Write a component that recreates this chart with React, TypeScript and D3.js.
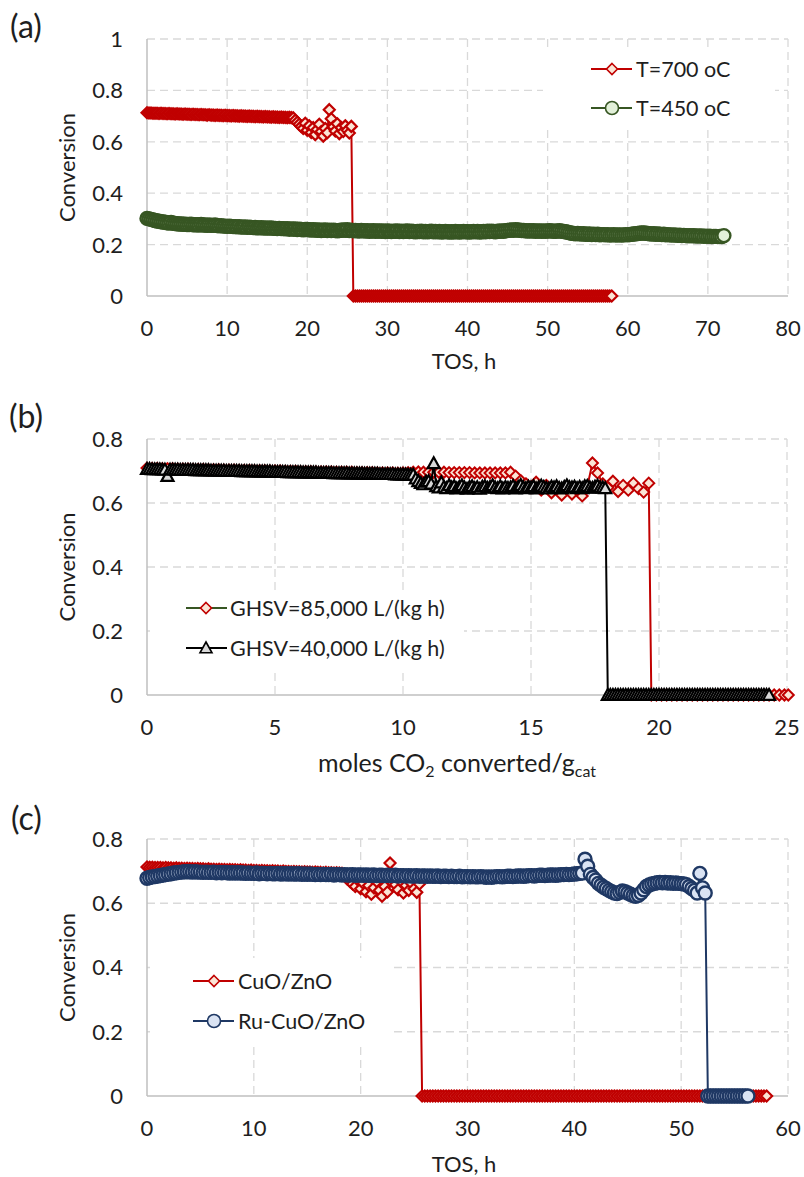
import React from 'react';
import * as d3 from 'd3';

// ---------- DATA ----------
// time-on-stream sampling grid (h), shared by panels (a) and (c)
const tosGrid = [
  0,0.25,0.5,0.75,1,1.25,1.5,1.75,2,2.25,2.5,2.75,3,3.25,3.5,3.75,
  4,4.25,4.5,4.75,5,5.25,5.5,5.75,6,6.25,6.5,6.75,7,7.25,7.5,7.75,
  8,8.25,8.5,8.75,9,9.25,9.5,9.75,10,10.25,10.5,10.75,11,11.25,11.5,11.75,
  12,12.25,12.5,12.75,13,13.25,13.5,13.75,14,14.25,14.5,14.75,15,15.25,15.5,15.75,
  16,16.25,16.5,16.75,17,17.25,17.5,17.75,18,18.25,18.5,18.75,19,19.25,19.5,19.75,
  20,20.25,20.5,20.75,21,21.25,21.5,21.75,22,22.25,22.5,22.75,23,23.25,23.5,23.75,
  24,24.25,24.5,24.75,25,25.25,25.5,25.75,26,26.25,26.5,26.75,27,27.25,27.5,27.75,
  28,28.25,28.5,28.75,29,29.25,29.5,29.75,30,30.25,30.5,30.75,31,31.25,31.5,31.75,
  32,32.25,32.5,32.75,33,33.25,33.5,33.75,34,34.25,34.5,34.75,35,35.25,35.5,35.75,
  36,36.25,36.5,36.75,37,37.25,37.5,37.75,38,38.25,38.5,38.75,39,39.25,39.5,39.75,
  40,40.25,40.5,40.75,41,41.25,41.5,41.75,42,42.25,42.5,42.75,43,43.25,43.5,43.75,
  44,44.25,44.5,44.75,45,45.25,45.5,45.75,46,46.25,46.5,46.75,47,47.25,47.5,47.75,
  48,48.25,48.5,48.75,49,49.25,49.5,49.75,50,50.25,50.5,50.75,51,51.25,51.5,51.75,
  52,52.25,52.5,52.75,53,53.25,53.5,53.75,54,54.25,54.5,54.75,55,55.25,55.5,55.75,
  56,56.25,56.5,56.75,57,57.25,57.5,57.75,58,58.25,58.5,58.75,59,59.25,59.5,59.75,
  60,60.25,60.5,60.75,61,61.25,61.5,61.75,62,62.25,62.5,62.75,63,63.25,63.5,63.75,
  64,64.25,64.5,64.75,65,65.25,65.5,65.75,66,66.25,66.5,66.75,67,67.25,67.5,67.75,
  68,68.25,68.5,68.75,69,69.25,69.5,69.75,70,70.25,70.5,70.75,71,71.25,71.5,71.75,
  72,
];

// conversion x1000, CuO/ZnO at 700 oC (panel a red, panel c red)
const conv700 = [
  713,712,712,711, 711,711,710,711, 710,710,709,710, 709,709,708,709,
  708,708,707,708, 707,707,706,707, 706,706,705,706, 705,705,704,705,
  704,704,703,704, 703,703,702,703, 702,702,701,702, 701,701,700,701,
  700,700,699,700, 699,699,698,699, 698,698,697,698, 697,697,696,697,
  696,696,695,696, 695,695,694,695,
  694,
  693,684,676,668, 660,652,672,645, 662,636,655,628, 648,668,640,622,
  652,635,725,690, 658,642,670,632, 655,640,662,645, 634,660,
  0,0,0,0,0,0,0,0,0,0, 0,0,0,0,0,0,0,0,0,0, 0,0,0,0,0,0,0,0,0,0,
  0,0,0,0,0,0,0,0,0,0, 0,0,0,0,0,0,0,0,0,0, 0,0,0,0,0,0,0,0,0,0,
  0,0,0,0,0,0,0,0,0,0, 0,0,0,0,0,0,0,0,0,0, 0,0,0,0,0,0,0,0,0,0,
  0,0,0,0,0,0,0,0,0,0, 0,0,0,0,0,0,0,0,0,0, 0,0,0,0,0,0,0,0,0,0,
  0,0,0,0,0,0,0,0,0,0,
];

// conversion x1000, T = 450 oC (panel a green)
const conv450 = [
  302,300,298,296, 294,292,291,289, 288,287,285,284, 286,283,282,281,
  280,280,279,279, 278,278,279,277, 277,277,276,278, 276,276,275,276,
  275,275,276,274, 273,274,272,272, 271,272,271,270, 270,269,270,268,
  268,269,267,268, 267,266,267,265, 265,266,264,265, 264,264,265,263,
  263,262,263,262, 262,261,262,260, 261,260,261,259, 260,259,258,259,
  259,258,257,258, 257,256,257,255, 256,257,255,256, 255,256,255,254,
  255,256,257,256, 258,255,256,254, 255,254,253,255, 254,253,254,252,
  253,254,252,253, 253,252,253,251, 253,252,251,252, 252,253,251,252,
  251,252,253,251, 252,251,250,251, 251,252,250,251, 250,251,252,250,
  251,250,251,249, 250,251,250,249, 250,249,251,250, 249,250,251,250,
  250,249,250,251, 250,251,249,250, 251,250,252,251, 252,251,250,252,
  252,253,252,254, 255,256,257,256, 258,257,256,255, 255,254,253,254,
  253,254,252,253, 253,252,253,252, 253,254,253,252, 252,253,254,252,
  251,250,248,246, 244,243,242,243, 242,241,242,240, 240,241,239,240,
  239,240,238,239, 239,238,239,237, 238,239,237,238, 238,237,238,239,
  238,239,240,241, 242,243,244,245, 245,244,243,242, 241,242,240,241,
  240,239,240,238, 239,238,237,238, 237,236,237,235, 236,235,234,235,
  234,235,233,234, 233,234,232,233, 232,233,231,232, 232,231,232,231,
  235,
];

// conversion x1000, Ru-CuO/ZnO (panel c blue)
const convRu = [
  678,680,682,683, 685,686,688,689, 691,692,694,695, 696,697,698,698,
  698,697,698,697, 697,696,697,696, 696,697,695,696, 695,696,695,694,
  695,694,695,694, 694,693,694,693, 693,694,692,693, 693,692,693,692,
  692,693,691,692, 692,691,692,691, 691,692,690,691, 690,691,690,689,
  690,689,690,689, 689,690,688,689, 689,688,689,688, 688,689,687,688,
  688,687,688,687, 687,688,686,687, 687,686,687,686, 686,687,685,686,
  686,685,686,685, 685,686,684,685, 685,684,685,684, 684,685,683,684,
  684,683,684,683, 683,684,682,683, 683,682,683,682, 682,683,682,681,
  682,681,682,683, 683,682,683,684, 684,683,684,685, 685,684,685,686,
  686,685,686,687, 687,686,687,688, 688,687,688,689, 689,690,689,690,
  691,692,693,694, 737,715,690,680, 672,662,656,650, 645,640,636,632,
  630,634,638,636, 632,628,624,622, 625,632,642,652, 657,660,662,664,
  665,664,665,663, 664,662,663,662, 661,660,658,652, 646,640,632,693,
  648,632,
  0,0,0,0, 0,0,0,0, 0,0,0,0, 0,0,0,0,
];

// panel (b): moles CO2 converted per g cat — GHSV = 85,000 sampling
const molesGrid85k = [
  0,0.2,0.4,0.6,0.8,1,1.2,1.4,1.6,1.8,
  2,2.2,2.4,2.6,2.8,3,3.2,3.4,3.6,3.8,
  4,4.2,4.4,4.6,4.8,5,5.2,5.4,5.6,5.8,
  6,6.2,6.4,6.6,6.8,7,7.2,7.4,7.6,7.8,
  8,8.2,8.4,8.6,8.8,9,9.2,9.4,9.6,9.8,
  10,10.2,10.4,10.6,10.8,11,11.2,11.4,11.6,11.8,
  12,12.2,12.4,12.6,12.8,13,13.2,13.4,13.6,13.8,
  14,14.2,14.4,14.6,14.8,15,15.2,15.4,15.6,15.8,
  16,16.2,16.4,16.6,16.8,17,17.2,17.4,17.6,17.8,
  18,18.2,18.4,18.6,18.8,19,19.2,19.4,19.6,
];
// GHSV = 85,000 (x1000)
const conv85k = [
  709,708,708,707,707,707,706,706,706,705,
  705,705,704,704,704,703,703,703,702,702,
  702,701,701,701,700,700,700,699,699,699,
  698,698,698,697,697,697,697,696,696,696,
  696,695,695,695,695,694,694,694,694,693,
  694,695,696,697,696,696,696,696,696,695,
  695,695,695,695,694,694,694,694,694,694,
  694,696,684,670,660,648,665,640,655,632,
  650,625,645,628,640,622,652,725,694,660,
  648,668,636,655,640,662,645,634,662,
];
const zeroMoles85k = [
  19.7,19.9,20.1,20.3,20.5,20.7,20.9,21.1,21.3,21.5,21.7,21.9,22.1,22.3,
  22.5,22.7,22.9,23.1,23.3,23.5,23.7,23.9,24.1,24.3,24.5,24.7,24.9,25.05,
];
// GHSV = 40,000 sampling
const molesGrid40k = [
  0,0.1,0.2,0.3,0.4,0.5,0.6,0.7,0.8,0.9,
  1,1.1,1.2,1.3,1.4,1.5,1.6,1.7,1.8,1.9,
  2,2.1,2.2,2.3,2.4,2.5,2.6,2.7,2.8,2.9,
  3,3.1,3.2,3.3,3.4,3.5,3.6,3.7,3.8,3.9,
  4,4.1,4.2,4.3,4.4,4.5,4.6,4.7,4.8,4.9,
  5,5.1,5.2,5.3,5.4,5.5,5.6,5.7,5.8,5.9,
  6,6.1,6.2,6.3,6.4,6.5,6.6,6.7,6.8,6.9,
  7,7.1,7.2,7.3,7.4,7.5,7.6,7.7,7.8,7.9,
  8,8.1,8.2,8.3,8.4,8.5,8.6,8.7,8.8,8.9,
  9,9.1,9.2,9.3,9.4,9.5,9.6,9.7,9.8,9.9,
  10,10.1,10.2,10.3,10.4,10.5,10.6,10.7,10.8,10.9,
  11,11.1,11.2,11.3,11.4,11.5,11.6,11.7,11.8,11.9,
  12,12.1,12.2,12.3,12.4,12.5,12.6,12.7,12.8,12.9,
  13,13.1,13.2,13.3,13.4,13.5,13.6,13.7,13.8,13.9,
  14,14.1,14.2,14.3,14.4,14.5,14.6,14.7,14.8,14.9,
  15,15.1,15.2,15.3,15.4,15.5,15.6,15.7,15.8,15.9,
  16,16.1,16.2,16.3,16.4,16.5,16.6,16.7,16.8,16.9,
  17,17.1,17.2,17.3,17.4,17.5,17.6,17.7,17.8,17.9,
];
// GHSV = 40,000 (x1000)
const conv40k = [
  706,706,705,705,705,705,704,704,684,704,
  704,704,704,703,703,703,703,703,703,702,
  702,702,702,702,702,701,701,701,701,701,
  701,700,700,700,700,700,700,699,699,699,
  699,699,699,698,698,698,698,698,698,697,
  697,697,697,697,697,696,696,696,696,696,
  696,695,695,695,695,695,695,694,694,694,
  694,694,694,693,693,693,693,693,693,692,
  692,692,692,692,692,691,691,691,691,691,
  691,690,690,690,690,690,690,689,689,689,
  689,689,688,688,688,676,668,662,658,666,
  668,660,724,652,648,664,650,646,655,648,
  652,645,650,655,648,644,650,652,646,649,
  644,651,652,647,650,655,648,646,652,645,
  650,647,648,653,645,650,656,649,646,651,
  648,652,645,649,654,650,647,645,651,648,
  652,647,645,650,655,649,648,651,646,650,
  646,652,653,648,647,651,654,649,648,646,
];
const zeroMoles40k = [
  18,18.1,18.2,18.3,18.4,18.5,18.6,18.7,18.8,18.9,
  19,19.1,19.2,19.3,19.4,19.5,19.6,19.7,19.8,19.9,
  20,20.1,20.2,20.3,20.4,20.5,20.6,20.7,20.8,20.9,
  21,21.1,21.2,21.3,21.4,21.5,21.6,21.7,21.8,21.9,
  22,22.1,22.2,22.3,22.4,22.5,22.6,22.7,22.8,22.9,
  23,23.1,23.2,23.3,23.4,23.5,23.6,23.7,23.8,23.9,
  24,24.1,24.2,24.3,
];

// ticks
const xTicksA = [0, 10, 20, 30, 40, 50, 60, 70, 80];
const yTicksA = [0, 0.2, 0.4, 0.6, 0.8, 1];
const yLabelsA = ['0', '0.2', '0.4', '0.6', '0.8', '1'];
const xTicksB = [0, 5, 10, 15, 20, 25];
const yTicksBC = [0, 0.2, 0.4, 0.6, 0.8];
const yLabelsBC = ['0', '0.2', '0.4', '0.6', '0.8'];
const xTicksC = [0, 10, 20, 30, 40, 50, 60];

// ---------- helpers ----------
type Pt = [number, number];
const zipGrid = (grid: number[], vals: number[]): Pt[] =>
  vals.slice(0, grid.length).map((v, i) => [grid[i], v / 1000] as Pt);
const zeros = (xs: number[]): Pt[] => xs.map((x) => [x, 0] as Pt);

type MarkerKind = 'diamond' | 'circle' | 'triangle';
interface Series {
  pts: Pt[];
  stroke: string;
  fill: string;
  line: string;
  marker: MarkerKind;
  size: number;
  sw: number;
}

const RED = '#C00000', RED_F = '#FBE5D6';
const GREEN = '#375623', GREEN_F = '#E2F0D9';
const BLACK = '#000000', GREY_F = '#D9D9D9';
const NAVY = '#1F3864', NAVY_F = '#DAE3F3';

const FONT = "Lato, 'Open Sans', 'Noto Sans', sans-serif";
const TXT = '#1e1e1e';

function Marker({ kind, x, y, size, stroke, fill, sw }: { kind: MarkerKind; x: number; y: number; size: number; stroke: string; fill: string; sw: number }) {
  if (kind === 'circle') return <circle cx={x} cy={y} r={size} fill={fill} stroke={stroke} strokeWidth={sw} />;
  if (kind === 'diamond')
    return <path d={`M${x},${y - size}L${x + size},${y}L${x},${y + size}L${x - size},${y}Z`} fill={fill} stroke={stroke} strokeWidth={sw} />;
  return <path d={`M${x},${y - size}L${x + size},${y + size * 0.8}L${x - size},${y + size * 0.8}Z`} fill={fill} stroke={stroke} strokeWidth={sw} strokeLinejoin="miter" />;
}

interface LegendEntry { label: string; s: Series; line: string; }
interface PanelCfg {
  left: number; right: number; top: number; bottom: number;
  xDomain: [number, number]; yDomain: [number, number];
  xTicks: number[]; yTicks: number[]; yLabels: string[];
  tag: string; tagX: number; tagY: number;
  xTitle: React.ReactNode; xTitleX: number; xTitleY: number; xTitleSize: number;
  legendBox: { x: number; y: number; w: number; h: number };
  legendYs: number[]; legendX: [number, number, number, number];
  legend: LegendEntry[];
  series: Series[];
}

function Panel({ c }: { c: PanelCfg }) {
  const x = d3.scaleLinear().domain(c.xDomain).range([c.left, c.right]);
  const y = d3.scaleLinear().domain(c.yDomain).range([c.bottom, c.top]);
  const line = d3.line<Pt>().x((d) => x(d[0])).y((d) => y(d[1]));
  return (
    <g>
      {c.yTicks.filter((t) => t !== 0).map((t) => (
        <line key={'gy' + t} x1={c.left} x2={c.right} y1={y(t)} y2={y(t)} stroke="#D9D9D9" strokeWidth={1.3} strokeDasharray="8,5" />
      ))}
      {c.xTicks.filter((t) => t !== 0).map((t) => (
        <line key={'gx' + t} x1={x(t)} x2={x(t)} y1={c.top} y2={c.bottom} stroke="#D9D9D9" strokeWidth={1.3} strokeDasharray="8,5" />
      ))}
      <line x1={c.left} x2={c.left} y1={c.top} y2={c.bottom} stroke="#BFBFBF" strokeWidth={1.5} />
      <line x1={c.left} x2={c.right} y1={c.bottom} y2={c.bottom} stroke="#BFBFBF" strokeWidth={1.5} />
      <rect x={c.legendBox.x} y={c.legendBox.y} width={c.legendBox.w} height={c.legendBox.h} fill="#fff" />
      {c.series.map((s, si) => (
        <g key={'s' + si}>
          <path d={line(s.pts) || ''} fill="none" stroke={s.line} strokeWidth={2} />
          {s.pts.map((p, i) => (
            <Marker key={i} kind={s.marker} x={x(p[0])} y={y(p[1])} size={s.size} stroke={s.stroke} fill={s.fill} sw={s.sw} />
          ))}
        </g>
      ))}
      {c.yTicks.map((t, i) => (
        <text key={'yl' + t} x={123} y={y(t)} dy="0.36em" textAnchor="end" fontFamily={FONT} fontSize={22} fill={TXT}>{c.yLabels[i]}</text>
      ))}
      {c.xTicks.map((t) => (
        <text key={'xl' + t} x={x(t)} y={c.bottom + 32} dy="0.36em" textAnchor="middle" fontFamily={FONT} fontSize={22} fill={TXT}>{String(t)}</text>
      ))}
      <text transform={`translate(75,${(c.top + c.bottom) / 2}) rotate(-90)`} textAnchor="middle" fontFamily={FONT} fontSize={22} fill={TXT}>Conversion</text>
      <text x={c.xTitleX} y={c.xTitleY} textAnchor="middle" fontFamily={FONT} fontSize={c.xTitleSize} fill={TXT}>{c.xTitle}</text>
      <text x={c.tagX} y={c.tagY} fontFamily={FONT} fontSize={32} fill={TXT}>{c.tag}</text>
      {c.legend.map((e, i) => {
        const ly = c.legendYs[i];
        const [l0, l1, lm, lt] = c.legendX;
        return (
          <g key={'lg' + i}>
            <line x1={l0} x2={l1} y1={ly} y2={ly} stroke={e.line} strokeWidth={2.2} />
            <Marker kind={e.s.marker} x={lm} y={ly} size={e.s.size} stroke={e.s.stroke} fill={e.s.fill} sw={1.6} />
            <text x={lt} y={ly} dy="0.36em" fontFamily={FONT} fontSize={21.5} fill={TXT}>{e.label}</text>
          </g>
        );
      })}
    </g>
  );
}

export default function App() {
  const red700: Series = { pts: zipGrid(tosGrid, conv700), stroke: RED, fill: RED_F, line: RED, marker: 'diamond', size: 5.5, sw: 2.2 };
  const green450: Series = { pts: zipGrid(tosGrid, conv450), stroke: GREEN, fill: GREEN_F, line: GREEN, marker: 'circle', size: 6.5, sw: 2.4 };
  const red85: Series = { pts: [...zipGrid(molesGrid85k, conv85k), ...zeros(zeroMoles85k)], stroke: RED, fill: RED_F, line: RED, marker: 'diamond', size: 5.5, sw: 2 };
  const black40: Series = { pts: [...zipGrid(molesGrid40k, conv40k), ...zeros(zeroMoles40k)], stroke: BLACK, fill: GREY_F, line: BLACK, marker: 'triangle', size: 6, sw: 2.2 };
  const ru: Series = { pts: zipGrid(tosGrid, convRu), stroke: NAVY, fill: NAVY_F, line: NAVY, marker: 'circle', size: 6.5, sw: 2.4 };

  const A: PanelCfg = {
    left: 147, right: 788, top: 39, bottom: 296,
    xDomain: [0, 80], yDomain: [0, 1], xTicks: xTicksA, yTicks: yTicksA, yLabels: yLabelsA,
    tag: '(a)', tagX: 10, tagY: 38, xTitle: 'TOS, h', xTitleX: 464, xTitleY: 369, xTitleSize: 22,
    legendBox: { x: 543, y: 52, w: 232, h: 78 }, legendYs: [69, 108], legendX: [591, 632, 612, 636],
    legend: [{ label: 'T=700 oC', s: red700, line: RED }, { label: 'T=450 oC', s: green450, line: GREEN }],
    series: [red700, green450],
  };
  const B: PanelCfg = {
    left: 147, right: 787, top: 439, bottom: 695,
    xDomain: [0, 25], yDomain: [0, 0.8], xTicks: xTicksB, yTicks: yTicksBC, yLabels: yLabelsBC,
    tag: '(b)', tagX: 9, tagY: 428,
    xTitle: (
      <>
        <tspan>moles CO</tspan>
        <tspan fontSize={16} dy={5}>2</tspan>
        <tspan dy={-5}> converted/g</tspan>
        <tspan fontSize={16} dy={5}>cat</tspan>
      </>
    ),
    xTitleX: 457, xTitleY: 772, xTitleSize: 25,
    legendBox: { x: 150, y: 592, w: 314, h: 78 }, legendYs: [608, 648], legendX: [186, 227, 206, 230],
    legend: [{ label: 'GHSV=85,000 L/(kg h)', s: red85, line: GREEN }, { label: 'GHSV=40,000 L/(kg h)', s: black40, line: BLACK }],
    series: [red85, black40],
  };
  const C: PanelCfg = {
    left: 147, right: 788, top: 839, bottom: 1096,
    xDomain: [0, 60], yDomain: [0, 0.8], xTicks: xTicksC, yTicks: yTicksBC, yLabels: yLabelsBC,
    tag: '(c)', tagX: 11, tagY: 830, xTitle: 'TOS, h', xTitleX: 464, xTitleY: 1172, xTitleSize: 22,
    legendBox: { x: 150, y: 958, w: 244, h: 86 }, legendYs: [981, 1021], legendX: [193, 234, 214, 238],
    legend: [{ label: 'CuO/ZnO', s: red700, line: RED }, { label: 'Ru-CuO/ZnO', s: ru, line: NAVY }],
    series: [red700, ru],
  };

  return (
    <svg width={804} height={1177} viewBox="0 0 804 1177" style={{ position: 'absolute', left: 0, top: 0, background: '#fff' }}>
      <rect x={0} y={0} width={804} height={1177} fill="#fff" />
      <Panel c={A} />
      <Panel c={B} />
      <Panel c={C} />
    </svg>
  );
}
